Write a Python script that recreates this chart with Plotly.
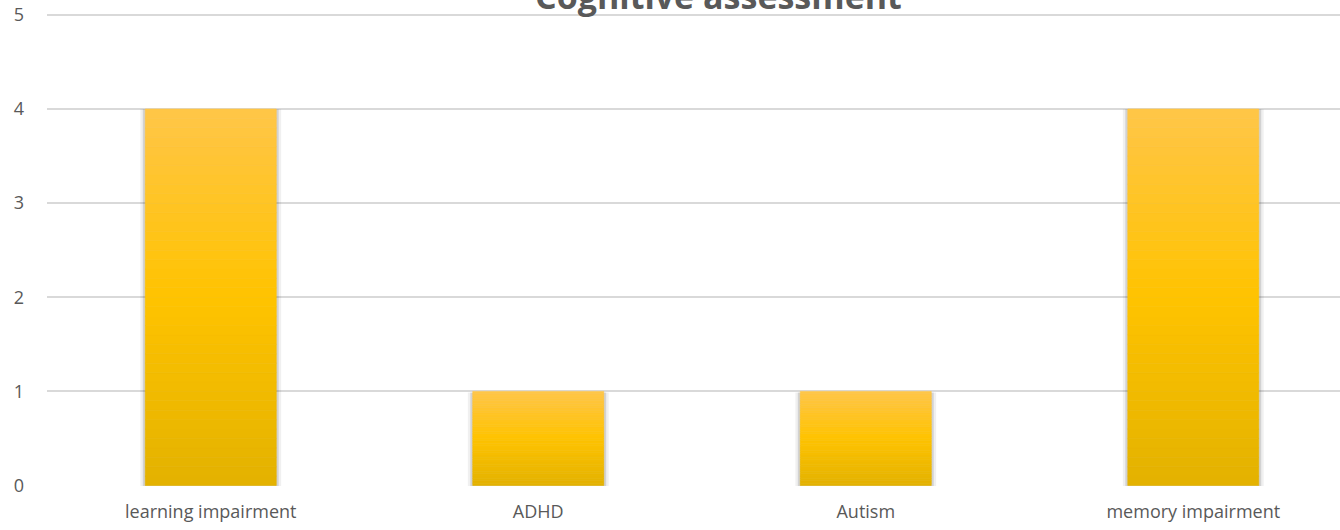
import plotly.graph_objects as go

categories = ["learning impairment", "ADHD", "Autism", "memory impairment"]
values = [4, 1, 1, 4]
y_ticks = [0, 1, 2, 3, 4, 5]
title_text = "Cognitive assessment"

# gradient stops (top -> bottom) used to shade each bar
top_rgb = (255, 198, 72)
mid_rgb = (255, 195, 0)
bot_rgb = (227, 178, 0)
n_slices = 40


def lerp(a, b, t):
    return tuple(int(round(a[i] + (b[i] - a[i]) * t)) for i in range(3))


def color_at(frac_from_bottom):
    if frac_from_bottom < 0.5:
        c = lerp(bot_rgb, mid_rgb, frac_from_bottom / 0.5)
    else:
        c = lerp(mid_rgb, top_rgb, (frac_from_bottom - 0.5) / 0.5)
    return "rgb(%d,%d,%d)" % c


fig = go.Figure()

# soft shadow behind bars (two layers)
for w, a in [(0.43, 0.06), (0.415, 0.12)]:
    fig.add_trace(go.Bar(
        x=categories, y=[v * 1.003 for v in values], base=[-0.015] * len(values),
        width=w, offset=-w / 2,
        marker=dict(color="rgba(0,0,0,%.2f)" % a, line=dict(width=0)),
        hoverinfo="skip", showlegend=False,
    ))

# gradient slices
for k in range(n_slices):
    frac = (k + 0.5) / n_slices
    col = color_at(frac)
    fig.add_trace(go.Bar(
        x=categories,
        y=[v / n_slices for v in values],
        base=[v * k / n_slices for v in values],
        width=0.4, offset=-0.2,
        marker=dict(color=col, line=dict(width=0.6, color=col)),
        hoverinfo="skip", showlegend=False,
    ))

font_family = "Open Sans, Lato, sans-serif"

fig.update_layout(
    width=1340, height=530,
    margin=dict(l=47, r=0, t=13, b=44),
    paper_bgcolor="white", plot_bgcolor="white",
    barmode="overlay",
    font=dict(family=font_family, size=18, color="#595959"),
    xaxis=dict(
        type="category", range=[-0.5, 3.448],
        showgrid=False, zeroline=False, automargin=False,
        showline=False, ticks="", tickfont=dict(size=18, color="#595959"),
        ticklabelstandoff=13,
    ),
    yaxis=dict(
        range=[-0.005, 5.02], tickvals=y_ticks, showgrid=True, gridcolor="#d9d9d9",
        gridwidth=1.5, zeroline=False, showline=False, ticks="", automargin=False,
        tickfont=dict(size=18, color="#595959"), ticklabelstandoff=22,
    ),
    annotations=[dict(
        text="<b>%s</b>" % title_text, xref="paper", yref="paper",
        x=0.519, y=1.0, yshift=-8, xanchor="center", yanchor="bottom",
        showarrow=False, font=dict(size=34, color="#595959", family=font_family),
    )],
)

fig.write_html(
    "out.html",
    config={"displayModeBar": False},
    post_script="document.body.style.margin='0';document.body.style.overflow='hidden';",
)
